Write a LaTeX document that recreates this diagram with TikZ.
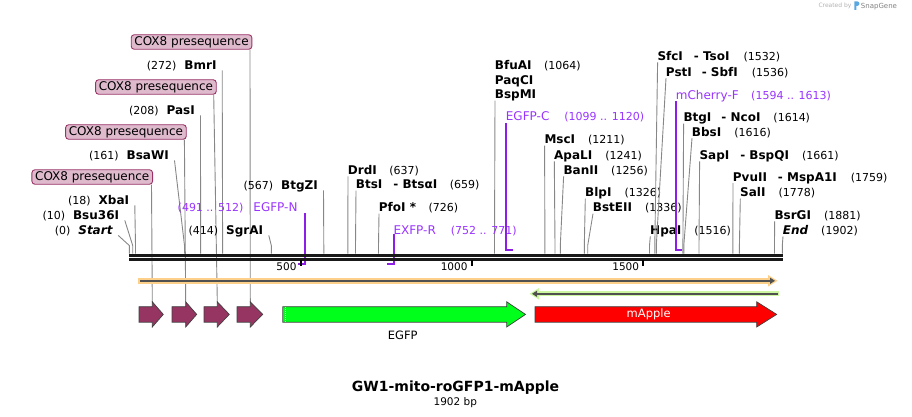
\documentclass[tikz,border=0pt]{standalone}
\usepackage{fontspec}
\setmainfont{DejaVu Sans}
\usetikzlibrary{arrows.meta}
\definecolor{eg}{RGB}{135,135,135}
\definecolor{prtext}{RGB}{153,51,255}
\definecolor{prline}{RGB}{140,30,230}
\definecolor{coxfill}{RGB}{222,186,204}
\definecolor{coxdraw}{RGB}{153,51,102}
\definecolor{coxarr}{RGB}{150,52,98}
\definecolor{orbar}{RGB}{253,208,138}
\definecolor{grbar}{RGB}{204,247,160}
\definecolor{darkbar}{RGB}{80,80,80}
\definecolor{egfpc}{RGB}{0,255,26}
\definecolor{outl}{RGB}{64,64,64}
\definecolor{logoblue}{RGB}{90,168,225}
\newcommand{\nm}[1]{{\fontsize{12}{14}\selectfont\bfseries #1}}
\newcommand{\prn}[1]{{\fontsize{12}{14}\selectfont #1}}
\newcommand{\featarr}[4]{\filldraw[farrow, fill=#4] (#1,306.7) -- (#2,306.7) -- (#2,301.8) -- (#3,314.4) -- (#2,327) -- (#2,322.2) -- (#1,322.2) -- cycle;}
\begin{document}
\begin{tikzpicture}[x=1pt,y=-1pt,
  lab/.style={inner sep=0pt, font=\fontsize{11}{13}\selectfont},
  labL/.style={lab, anchor=base east},
  labR/.style={lab, anchor=base west},
  plab/.style={text=prtext},
  eline/.style={draw=eg, line width=0.9pt},
  pline/.style={draw=prline, line width=1.7pt},
  coxbox/.style={draw=coxdraw, fill=coxfill, line width=0.9pt, rounded corners=3pt, inner xsep=3.2pt, inner ysep=0pt, minimum height=14.5pt, font=\fontsize{12}{14}\selectfont, anchor=east},
  farrow/.style={draw=outl, line width=0.7pt},
  tickmark/.style={line width=1.8pt, draw=black},
  ticklab/.style={inner sep=0pt, anchor=base east, font=\fontsize{10.5}{12}\selectfont}
]
\useasboundingbox (0,0) rectangle (912,417);

% sequence positions
\foreach \n/\x in {0/129.3, 10/132.7, 18/135.5, 161/184.5, 208/200.6, 272/222.6, 414/271.3, 567/323.8, 637/347.8, 659/355.5, 726/378.5, 1064/494.5, 1211/544.9, 1241/555.0, 1256/560.3, 1326/584.3, 1336/587.7, 1516/649.5, 1532/654.8, 1536/656.3, 1614/682.9, 1616/683.8, 1661/699.0, 1759/732.8, 1778/739.4, 1881/774.5, 1902/782.3}
  \coordinate (s\n) at (\x,253.5);

% ---- COX8 feature labels and their lines
\node[coxbox] (cox1) at (153,177) {COX8 presequence};
\node[coxbox] (cox2) at (186.7,132) {COX8 presequence};
\node[coxbox] (cox3) at (216.7,87) {COX8 presequence};
\node[coxbox] (cox4) at (252.3,42) {COX8 presequence};
\coordinate (a1) at (152.3,301.8);
\coordinate (a2) at (185.7,301.8);
\coordinate (a3) at (217.3,301.8);
\coordinate (a4) at (250.3,301.8);
\draw[eline] ([xshift=-1.5pt]cox1.south east) -- (a1);
\draw[eline] ([xshift=-2.3pt]cox2.south east) -- (a2);
\draw[eline] ([xshift=-3pt]cox3.south east) -- (a3);
\draw[eline] ([xshift=-2.3pt]cox4.south east) -- (a4);

% ---- left enzyme labels
\node[labL] (lStart) at (112.7,234.4) {(0)\hspace{8pt}\nm{\itshape Start}};
\node[labL] (lBsu) at (119.3,219.4) {(10)\hspace{8pt}\nm{Bsu36I}};
\node[labL] (lXba) at (129.3,204.4) {(18)\hspace{8pt}\nm{XbaI}};
\node[labL] (lBsa) at (169,159.4) {(161)\hspace{8pt}\nm{BsaWI}};
\node[labL] (lPas) at (195,114.4) {(208)\hspace{8pt}\nm{PasI}};
\node[labL] (lBmr) at (216.7,69.4) {(272)\hspace{8pt}\nm{BmrI}};
\node[labL] (lSgr) at (263.3,234.4) {(414)\hspace{8pt}\nm{SgrAI}};
\node[labL] (lBtz) at (318,189.4) {(567)\hspace{8pt}\nm{BtgZI}};
\foreach \l/\s in {lStart/s0, lBsu/s10, lXba/s18, lBsa/s161, lPas/s208, lBmr/s272, lSgr/s414, lBtz/s567}
  \draw[eline] ([shift={(5.5,1)}]\l.base east) -- ([yshift=8pt]\s) -- (\s);

% ---- right enzyme labels
\node[labR] (rDrd) at (347.7,174.4) {\nm{DrdI}\hspace{12.5pt}(637)};
\node[labR] (rBts) at (355.7,188.7) {\nm{BtsI}\hspace{11pt}\nm{- BtsαI}\hspace{12.5pt}(659)};
\node[labR] (rPfo) at (378.7,211.7) {\nm{PfoI *}\hspace{12.5pt}(726)};
\node[labR] (rBfu) at (494.7,69.4) {\nm{BfuAI}\hspace{12.5pt}(1064)};
\node[labR] (rPaq) at (494.7,84.4) {\nm{PaqCI}};
\node[labR] (rBsp) at (494.7,98.7) {\nm{BspMI}};
\node[labR] (rMsc) at (544.3,143.7) {\nm{MscI}\hspace{13pt}(1211)};
\node[labR] (rApa) at (554,159.4) {\nm{ApaLI}\hspace{13pt}(1241)};
\node[labR] (rBan) at (563.3,174.4) {\nm{BanII}\hspace{13pt}(1256)};
\node[labR] (rBlp) at (585,196.7) {\nm{BlpI}\hspace{13pt}(1326)};
\node[labR] (rBst) at (592.7,211.7) {\nm{BstEII}\hspace{13pt}(1336)};
\node[labR] (rHpa) at (650,234.4) {\nm{HpaI}\hspace{13pt}(1516)};
\node[labR] (rSfc) at (657.3,60.4) {\nm{SfcI}\hspace{11pt}\nm{- TsoI}\hspace{14pt}(1532)};
\node[labR] (rPst) at (665.7,76.1) {\nm{PstI}\hspace{10pt}\nm{- SbfI}\hspace{14pt}(1536)};
\node[labR] (rBtg) at (683.3,121.7) {\nm{BtgI}\hspace{10pt}\nm{- NcoI}\hspace{13pt}(1614)};
\node[labR] (rBbs) at (691.7,136.1) {\nm{BbsI}\hspace{13pt}(1616)};
\node[labR] (rSap) at (699.3,159.4) {\nm{SapI}\hspace{11pt}\nm{- BspQI}\hspace{13pt}(1661)};
\node[labR] (rPvu) at (732.7,181.1) {\nm{PvuII}\hspace{11pt}\nm{- MspA1I}\hspace{14pt}(1759)};
\node[labR] (rSal) at (740,196.7) {\nm{SalI}\hspace{13pt}(1778)};
\node[labR] (rBsr) at (774.3,219.4) {\nm{BsrGI}\hspace{13pt}(1881)};
\node[labR] (rEnd) at (782.7,234.4) {\nm{\itshape End}\hspace{13pt}(1902)};
\foreach \l/\s in {rDrd/s637, rBts/s659, rPfo/s726, rBsp/s1064, rMsc/s1211, rApa/s1241, rBan/s1256, rBlp/s1326, rBst/s1336, rHpa/s1516, rSfc/s1532, rPst/s1536, rBtg/s1614, rBbs/s1616, rSap/s1661, rPvu/s1759, rSal/s1778, rBsr/s1881, rEnd/s1902}
  \draw[eline] ([shift={(0.3,2)}]\l.base west) -- ([yshift=8pt]\s) -- (\s);

% ---- primers
\node[labL, plab] (pN) at (297.7,211) {(491 .. 512)\hspace{10pt}\prn{EGFP-N}};
\node[labR, plab] (pR) at (393.3,234.4) {\prn{EXFP-R}\hspace{15pt}(752 .. 771)};
\node[labR, plab] (pC) at (505.7,121) {\prn{EGFP-C}\hspace{15pt}(1099 .. 1120)};
\node[labR, plab] (pM) at (675.7,99.4) {\prn{mCherry-F}\hspace{12.5pt}(1594 .. 1613)};
\coordinate (pN1) at (305.3,264); \coordinate (pN0) at (297.7,264);
\coordinate (pR1) at (393.7,263.8); \coordinate (pR0) at (387.2,263.8);
\coordinate (pC1) at (505.7,250.3); \coordinate (pC0) at (513,250.3);
\coordinate (pM1) at (675.7,250.3); \coordinate (pM0) at (682.3,250.3);
\draw[pline] ([shift={(7.6,1.8)}]pN.base east) -- (pN1) -- (pN0);
\draw[pline] ([shift={(0.4,0)}]pR.base west) -- (pR1) -- (pR0);
\draw[pline] ([shift={(0,2.3)}]pC.base west) -- (pC1) -- (pC0);
\draw[pline] ([shift={(0,1.6)}]pM.base west) -- (pM1) -- (pM0);

% ---- feature bars
\draw[orbar, line width=5.5pt] (138.3,280.8) -- (771,280.8);
\fill[orbar] (768,275) -- (777.5,280.8) -- (768,286.6) -- cycle;
\draw[darkbar, line width=2pt, -{Triangle[length=5pt,width=6pt]}] (140,280.8) -- (775,280.8);
\draw[grbar, line width=5pt] (537,293.8) -- (779.3,293.8);
\fill[grbar] (539,288) -- (529.5,293.8) -- (539,299.6) -- cycle;
\draw[darkbar, line width=2pt, -{Triangle[length=5pt,width=6pt]}] (777.5,293.8) -- (532,293.8);

% ---- sequence line
\draw[line width=2.7pt, black!90] (129.3,255.3) -- (782.7,255.3);
\draw[line width=2.9pt, black!90] (129.3,259.2) -- (782.7,259.2);
\draw[tickmark] (301,260) -- (301,266);
\draw[tickmark] (471.7,260) -- (471.7,266);
\draw[tickmark] (643.3,260) -- (643.3,266);
\node[ticklab] (t500) at (296.7,270.5) {500};
\node[ticklab] (t1000) at (467.7,270.5) {1000};
\node[ticklab] (t1500) at (639.3,270.5) {1500};

% ---- feature arrows
\featarr{139}{152.3}{163.3}{coxarr}
\featarr{172}{185.7}{196.7}{coxarr}
\featarr{204}{217.3}{229.3}{coxarr}
\featarr{237}{250.3}{262.7}{coxarr}
\featarr{282.8}{506.7}{525.5}{egfpc}
\draw[white, line width=0.8pt, dash pattern=on 1pt off 1pt] (285.3,307.3) -- (285.3,321.8);
\featarr{535}{756.7}{776.7}{red}
\node[inner sep=0pt, anchor=base, font=\fontsize{11.5}{13}\selectfont] (egfp) at (402.7,339.9) {EGFP};
\node[inner sep=0pt, anchor=base, text=white, font=\fontsize{11.5}{13}\selectfont] (mapple) at (648.7,317.5) {mApple};

% ---- title
\node[inner sep=0pt, anchor=base, font=\fontsize{14}{16}\selectfont\bfseries] (title) at (455.5,391.1) {GW1-mito-roGFP1-mApple};
\node[inner sep=0pt, anchor=base, font=\fontsize{10.5}{12}\selectfont] (bp) at (455.3,405.5) {1902 bp};

% ---- SnapGene credit
\node[inner sep=0pt, anchor=base east, text=black!30, font=\fontsize{6}{7}\selectfont] (cred) at (851.7,8) {Created by};
\fill[logoblue] (854.3,1.5) -- (857.5,1.5) .. controls (860,1.5) and (860,5.8) .. (857.5,5.8) -- (856.3,5.8) -- (856.3,10) -- (854.3,10) -- cycle;
\node[inner sep=0pt, anchor=base west, text=black!50, font=\fontsize{7}{8}\selectfont] (sg) at (860.7,8.3) {SnapGene};
\end{tikzpicture}
\end{document}
